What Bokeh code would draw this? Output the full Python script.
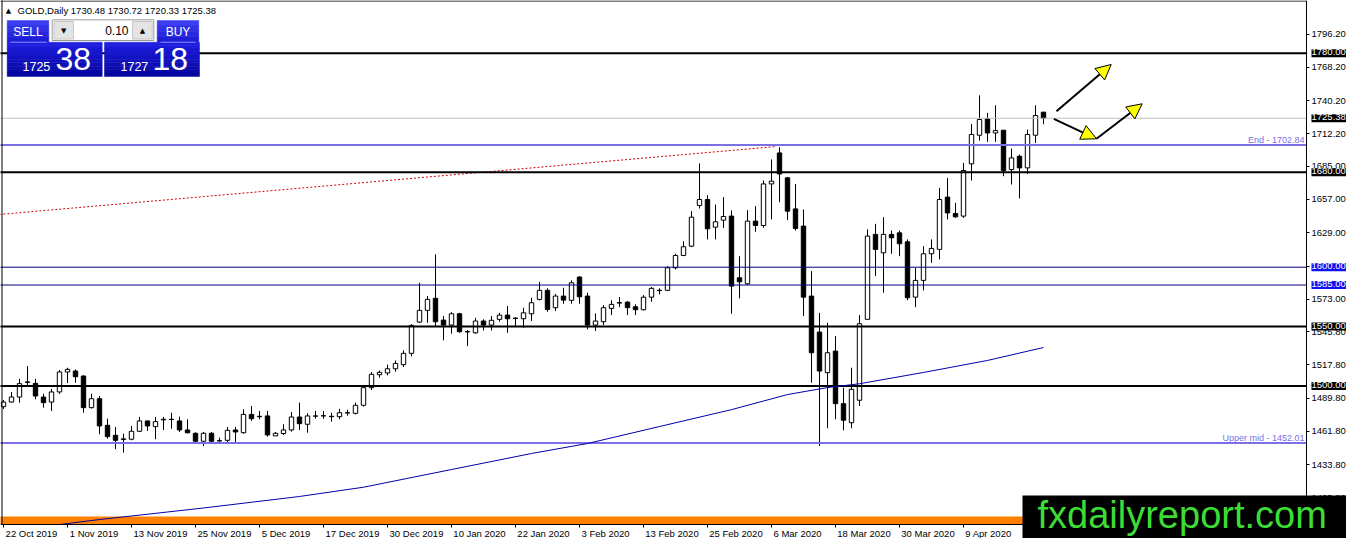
from bokeh.plotting import figure
from bokeh.models import FixedTicker, PrintfTickFormatter, Label, Arrow, NormalHead, ColumnDataSource
from bokeh.embed import file_html
from bokeh.resources import INLINE

# ---------------- data (GOLD, Daily) ----------------
opens = [1482.6,1486.5,1490.7,1503.0,1502.2,1490.7,1486.5,1495.0,1511.8,1512.6,
 1508.4,1481.8,1489.3,1466.9,1458.5,1455.0,1455.2,1461.9,1470.6,1465.8,
 1471.5,1471.8,1470.6,1463.0,1460.2,1453.5,1460.2,1453.8,1454.3,1463.0,
 1460.7,1476.1,1474.5,1474.8,1458.0,1460.0,1463.0,1473.9,1467.8,1474.6,
 1474.8,1474.5,1474.2,1477.3,1477.0,1483.8,1498.6,1509.5,1511.0,1514.5,
 1518.0,1527.5,1553.8,1563.7,1573.8,1555.5,1551.3,1560.8,1545.5,1544.8,
 1554.7,1551.3,1556.1,1559.7,1556.9,1556.6,1560.8,1572.9,1580.5,1565.9,
 1575.7,1572.1,1591.7,1575.7,1551.3,1554.1,1565.3,1569.8,1570.6,1566.7,
 1564.2,1574.8,1580.3,1580.5,1599.5,1609.9,1617.7,1652.0,1657.0,1633.7,
 1639.6,1643.0,1591.1,1586.0,1638.8,1635.1,1670.1,1696.2,1675.2,1649.1,
 1634.6,1575.7,1545.4,1511.2,1529.4,1485.1,1469.1,1488.0,1556.1,1627.6,
 1612.1,1627.6,1628.9,1621.4,1574.8,1588.9,1611.3,1615.0,1659.0,1645.2,
 1643.0,1687.0,1711.1,1725.1,1713.0,1715.3,1682.2,1693.4,1683.6,1711.1,
 1730.48]
highs = [1488.2,1495.0,1506.0,1516.8,1506.0,1493.5,1497.5,1513.5,1515.4,1514.0,
 1509.0,1493.5,1491.6,1472.5,1465.5,1459.9,1466.4,1474.0,1471.0,1474.0,
 1474.0,1477.5,1474.2,1472.0,1461.0,1461.3,1461.3,1456.5,1465.5,1465.5,
 1480.4,1483.2,1479.0,1479.0,1461.3,1467.8,1478.1,1486.0,1477.0,1479.0,
 1479.0,1477.5,1480.8,1480.0,1486.0,1499.4,1511.8,1513.0,1518.0,1521.5,
 1530.0,1552.0,1586.9,1575.7,1610.8,1558.9,1562.2,1561.6,1547.1,1557.4,
 1556.1,1558.9,1561.6,1567.3,1558.0,1565.9,1574.3,1587.7,1582.2,1577.6,
 1582.7,1588.9,1592.5,1578.5,1561.1,1568.1,1572.1,1574.8,1571.5,1568.7,
 1576.5,1583.3,1582.2,1600.9,1611.3,1621.9,1647.2,1687.3,1660.6,1652.8,
 1659.0,1647.8,1609.3,1648.0,1651.4,1673.0,1690.7,1701.0,1676.0,1670.1,
 1648.6,1596.7,1561.6,1553.2,1542.0,1498.6,1515.4,1559.7,1631.8,1636.5,
 1642.1,1630.9,1630.9,1623.4,1599.5,1617.7,1623.4,1666.8,1675.2,1654.2,
 1687.8,1720.6,1744.7,1729.9,1736.3,1715.5,1699.9,1694.8,1715.9,1736.3,
 1730.72]
lows = [1480.7,1486.0,1486.0,1500.0,1488.8,1481.8,1479.0,1493.3,1502.5,1502.8,
 1477.5,1481.0,1459.4,1455.7,1446.8,1443.9,1454.3,1461.3,1462.2,1455.2,
 1463.0,1464.0,1461.3,1460.0,1452.9,1449.5,1452.5,1451.8,1452.9,1451.8,
 1459.9,1470.6,1472.0,1457.4,1458.0,1458.8,1461.6,1463.0,1460.7,1472.5,
 1472.5,1470.0,1472.0,1475.0,1476.1,1482.6,1496.6,1507.0,1509.0,1512.0,
 1516.0,1525.0,1553.0,1553.2,1550.5,1538.4,1544.0,1544.8,1533.6,1544.0,
 1546.8,1546.8,1554.1,1544.8,1549.6,1549.0,1554.7,1572.1,1562.5,1563.1,
 1569.2,1569.2,1569.2,1547.7,1546.3,1551.3,1559.7,1566.4,1559.7,1559.7,
 1563.7,1570.9,1577.1,1579.9,1598.1,1609.3,1616.9,1649.4,1623.4,1623.4,
 1633.1,1560.8,1573.8,1584.9,1629.8,1633.1,1640.2,1654.7,1639.6,1630.9,
 1558.9,1502.8,1449.5,1464.4,1472.0,1462.7,1464.4,1483.2,1556.0,1592.5,
 1578.5,1611.3,1609.3,1572.1,1566.4,1580.5,1603.7,1606.6,1640.2,1641.5,
 1641.5,1673.0,1706.6,1705.5,1705.5,1676.6,1669.6,1657.9,1678.5,1704.6,
 1720.33]
closes = [1486.5,1490.7,1502.0,1503.5,1491.6,1486.0,1495.0,1511.8,1514.0,1507.8,
 1481.8,1489.3,1466.4,1457.4,1454.3,1455.5,1461.9,1470.6,1466.4,1470.0,
 1472.0,1472.0,1463.0,1460.7,1453.5,1460.2,1453.5,1454.0,1462.7,1461.3,
 1476.1,1472.5,1474.2,1458.8,1460.2,1463.0,1473.9,1468.3,1474.8,1474.8,
 1475.0,1474.2,1477.5,1477.5,1483.8,1498.6,1509.8,1511.5,1514.5,1519.0,
 1527.5,1551.0,1563.7,1572.9,1554.1,1551.3,1560.8,1545.7,1545.9,1554.7,
 1551.3,1555.3,1559.7,1556.6,1557.1,1561.6,1570.1,1580.5,1564.5,1575.7,
 1572.3,1586.9,1575.1,1551.3,1554.7,1565.9,1568.7,1570.2,1565.9,1564.2,
 1574.8,1582.2,1580.6,1599.5,1609.9,1617.2,1642.1,1657.0,1632.3,1638.2,
 1642.7,1584.1,1587.7,1638.8,1635.1,1670.1,1672.4,1678.5,1647.2,1632.6,
 1574.8,1528.0,1512.6,1528.0,1485.1,1471.2,1497.2,1552.4,1626.2,1615.0,
 1627.6,1624.7,1619.7,1574.3,1588.9,1611.3,1615.8,1657.0,1645.7,1642.4,
 1681.4,1711.7,1724.3,1713.0,1715.0,1681.4,1692.0,1683.6,1711.7,1727.7,
 1725.38]

date_tick_bars = [0, 8, 16, 24, 32, 40, 48, 56, 64, 72, 80, 88, 96, 104, 112, 120]
date_labels = ["22 Oct 2019", "1 Nov 2019", "13 Nov 2019", "25 Nov 2019", "5 Dec 2019",
               "17 Dec 2019", "30 Dec 2019", "10 Jan 2020", "22 Jan 2020", "3 Feb 2020",
               "13 Feb 2020", "25 Feb 2020", "6 Mar 2020", "18 Mar 2020", "30 Mar 2020",
               "9 Apr 2020"]
price_ticks = [1796.2, 1768.2, 1740.2, 1712.2, 1685.0, 1657.0, 1629.0, 1601.0, 1573.0,
               1545.8, 1517.8, 1489.8, 1461.8, 1433.8, 1405.8]

black_levels = [1780.0, 1680.0, 1550.0, 1500.0]
navy_levels = [1600.0, 1585.0]
fibo_levels = [1702.84, 1452.01]
fibo_names = ["End", "Upper mid"]
bid_price = 1725.38
ask_price = 1727.18
lot_size = 0.10
header_ohlc = [1730.48, 1730.72, 1720.33, 1725.38]

ma_bars = [0, 12, 25, 37, 45, 56, 66, 73, 82, 91, 98, 103, 107, 115, 123, 130]
ma_values = [1377.5, 1387.6, 1397.3, 1407.0, 1414.8, 1429.7, 1443.2, 1451.6, 1465.9,
             1480.1, 1492.8, 1498.7, 1501.9, 1511.4, 1521.5, 1532.4]
trend_bars = [-0.5, 96.6]
trend_values = [1644.4, 1701.6]

# ---------------- layout helpers (canvas pixels -> data) ----------------
W, H = 1346, 538
BAR_PX = 8.0
PX_PER_UNIT = 1.188
X0 = -0.375
X1 = X0 + W / BAR_PX
Y1 = 1824.5
Y0 = Y1 - H / PX_PER_UNIT
FONT = "Liberation Sans"


def cx(x):
    return X0 + x / BAR_PX


def cy(y):
    return Y1 - y / PX_PER_UNIT


AX_X = cx(1306)   # price axis position
AX_Y = cy(524)    # time axis position

p = figure(frame_width=W, frame_height=H, x_range=(X0, X1), y_range=(Y0, Y1),
           y_axis_location="right", output_backend="svg", toolbar_location=None,
           min_border_left=0, min_border_top=0, min_border_right=0, min_border_bottom=0,
           background_fill_color="white", border_fill_color="white")
p.grid.visible = False
p.outline_line_color = None

# price axis
p.yaxis.fixed_location = AX_X
p.yaxis.bounds = (AX_Y, Y1 + 5)
p.yaxis.ticker = FixedTicker(ticks=price_ticks)
p.yaxis.formatter = PrintfTickFormatter(format="%.2f")
p.yaxis.major_tick_out = 3
p.yaxis.major_tick_in = 0
p.yaxis.minor_tick_out = 0
p.yaxis.minor_tick_in = 0
p.yaxis.major_label_standoff = 2
p.yaxis.major_label_text_font = FONT
p.yaxis.major_label_text_font_size = "9.5px"
p.yaxis.major_label_text_color = "black"
p.yaxis.axis_line_color = "black"

# time axis: each label starts at its bar
FS_DATE = 9.5
cw = {' ': .278, 'O': .778, 'c': .5, 't': .278, 'N': .722, 'o': .556, 'v': .5, 'D': .722,
      'e': .556, 'J': .5, 'a': .556, 'n': .556, 'F': .611, 'b': .556, 'M': .833, 'r': .333,
      'A': .667, 'p': .556}
centres, overrides = [], {}
for b, s in zip(date_tick_bars, date_labels):
    w = sum(cw.get(ch, .556) for ch in s) * FS_DATE
    c = round((b + (w / 2 + 2) / BAR_PX) * 16) / 16
    centres.append(c)
    overrides[c] = s
p.xaxis.fixed_location = AX_Y
p.xaxis.bounds = (X0 - 1, AX_X)
p.xaxis.ticker = FixedTicker(ticks=centres)
p.xaxis.major_label_overrides = overrides
p.xaxis.major_tick_out = 0
p.xaxis.major_tick_in = 0
p.xaxis.minor_tick_out = 0
p.xaxis.minor_tick_in = 0
p.xaxis.major_label_standoff = 3
p.xaxis.major_label_text_font = FONT
p.xaxis.major_label_text_font_size = f"{FS_DATE}px"
p.xaxis.major_label_text_color = "black"
p.xaxis.axis_line_color = "black"

# bottom orange strip
p.quad(left=[X0 - 1], right=[AX_X], bottom=[AX_Y], top=[AX_Y + 8 / PX_PER_UNIT],
       fill_color="#ff8000", line_color=None)

# candles
n = len(opens)
bars = list(range(n))
src = ColumnDataSource(dict(
    x=bars, o=opens, h=highs, l=lows, c=closes,
    top=[max(a, b) for a, b in zip(opens, closes)],
    bot=[min(a, b) for a, b in zip(opens, closes)],
    fill=["white" if c >= o else "black" for o, c in zip(opens, closes)],
))
p.segment(x0="x", y0="l", x1="x", y1="h", source=src, line_color="black", line_width=1)
p.vbar(x="x", width=0.55, top="top", bottom="bot", source=src, fill_color="fill",
       line_color="black", line_width=1)

# lines on top of candles
p.line(trend_bars, trend_values, line_color="#d00000", line_width=1, line_dash="2 2")
p.segment(x0=[X0 - 1], x1=[AX_X], y0=[bid_price], y1=[bid_price], line_color="#c0c0c0", line_width=1)
k = len(navy_levels)
p.segment(x0=[X0 - 1] * k, x1=[AX_X] * k, y0=navy_levels, y1=navy_levels,
          line_color="#000080", line_width=1)
k = len(fibo_levels)
p.segment(x0=[X0 - 1] * k, x1=[AX_X] * k, y0=fibo_levels, y1=fibo_levels,
          line_color="#7b6fe6", line_width=2)
k = len(black_levels)
p.segment(x0=[X0 - 1] * k, x1=[AX_X] * k, y0=black_levels, y1=black_levels,
          line_color="black", line_width=2)
p.line(ma_bars, ma_values, line_color="#0000a8", line_width=1)

# white margins outside the chart area (below the time axis, right of the price axis)
p.quad(left=[X0 - 1], right=[X1 + 1], top=[AX_Y], bottom=[Y0 - 5], fill_color="white", line_color=None)
p.quad(left=[AX_X], right=[X1 + 1], top=[Y1 + 5], bottom=[Y0 - 5], fill_color="white", line_color=None)
# chart border (left, top)
p.segment(x0=[cx(1.5), X0 - 1], x1=[cx(1.5), AX_X], y0=[AX_Y, cy(0.5)], y1=[Y1 + 5, cy(0.5)],
          line_color="black", line_width=1)
# small date ticks
p.segment(x0=date_tick_bars, x1=date_tick_bars, y0=[AX_Y] * len(date_tick_bars),
          y1=[AX_Y - 3 / PX_PER_UNIT] * len(date_tick_bars), line_color="black", line_width=1)

# watermark box
p.quad(left=[cx(1022)], right=[X1 + 1], top=[cy(495)], bottom=[Y0 - 5],
       fill_color="black", line_color=None)

# ---------------- one-click trading panel ----------------


def grad_box(xa, xb, ya, yb, ctop, cbot, nstripe):
    L, R, T, B, C = [], [], [], [], []
    for s in range(nstripe):
        t = s / max(nstripe - 1, 1)
        col = tuple(int(ctop[j] + (cbot[j] - ctop[j]) * t) for j in range(3))
        y_a = ya + (yb - ya) * s / nstripe
        y_b = ya + (yb - ya) * (s + 1) / nstripe
        L.append(cx(xa)); R.append(cx(xb)); T.append(cy(y_a)); B.append(cy(y_b))
        C.append("#%02x%02x%02x" % col)
    p.quad(left=L, right=R, top=T, bottom=B, fill_color=C, line_color=C, line_width=0.5)


grad_box(6.7, 48.3, 20, 41.7, (60, 60, 240), (30, 30, 215), 4)
grad_box(156.7, 198.3, 20, 41.7, (60, 60, 240), (30, 30, 215), 4)
grad_box(6.7, 101.7, 41.7, 76, (30, 30, 225), (6, 6, 160), 10)
grad_box(104, 199, 41.7, 76, (30, 30, 225), (6, 6, 160), 10)
p.quad(left=[cx(51.7)], right=[cx(153.3)], top=[cy(19.3)], bottom=[cy(40)],
       fill_color="white", line_color="#9a9a9a", line_width=1)
p.quad(left=[cx(53.5), cx(132)], right=[cx(73), cx(151.7)], top=[cy(21)] * 2,
       bottom=[cy(38.5)] * 2, fill_color="#e4e4e4", line_color="#c4c4c4", line_width=1)
p.segment(x0=[cx(10), cx(160)], x1=[cx(46), cx(195)], y0=[cy(41.7)] * 2,
          y1=[cy(41.7)] * 2, line_color="#8a8aff", line_width=1)


def lab(x, y, text, size, color, align="left", baseline="middle", bg=None, pad=None, font=FONT):
    kw = dict(x=x, y=y, text=text, text_font_size=f"{size}px", text_color=color,
              text_align=align, text_baseline=baseline, text_font=font)
    if bg is not None:
        kw["background_fill_color"] = bg
    if pad is not None:
        kw["padding"] = pad
    p.add_layout(Label(**kw))


bid_s = f"{bid_price:.2f}"
ask_s = f"{ask_price:.2f}"
lab(cx(27.5), cy(31), "SELL", 12, "white", "center")
lab(cx(177.5), cy(31), "BUY", 12, "white", "center")
lab(cx(128), cy(30), f"{lot_size:.2f}", 12, "black", "right")
lab(cx(63.3), cy(30), "\u25bc", 7, "black", "center", font="DejaVu Sans")
lab(cx(142), cy(30), "\u25b2", 7, "black", "center", font="DejaVu Sans")
lab(cx(22), cy(65.5), bid_s[:4], 12.5, "white", "left")
lab(cx(55), cy(58.5), bid_s[5:], 32, "white", "left")
lab(cx(120), cy(65.5), ask_s[:4], 12.5, "white", "left")
lab(cx(152), cy(58.5), ask_s[5:], 32, "white", "left")

# header
lab(cx(8), cy(10), "\u25b2", 7, "black", "center", font="DejaVu Sans")
lab(cx(17), cy(10), "GOLD,Daily  " + " ".join(f"{v:.2f}" for v in header_ohlc), 9.5, "black")

# fibo texts
for lvl, name in zip(fibo_levels, fibo_names):
    lab(AX_X - 2 / BAR_PX, lvl + 5.5 / PX_PER_UNIT, f"{name} - {lvl:.2f}", 9, "#7b6fe6",
        "right", "middle")

# price labels on the axis
for lvl in black_levels[:2] + [bid_price] + black_levels[2:]:
    lab(cx(1311), lvl, f"{lvl:.2f}", 9.5, "white", "left", "middle", bg="black", pad=(0, 2, 0, 2))
for lvl in navy_levels:
    lab(cx(1311), lvl, f"{lvl:.2f}", 9.5, "white", "left", "middle", bg="#1010f0", pad=(0, 2, 0, 2))

# arrows
head = dict(size=15, fill_color="yellow", line_color="black", line_width=1)
for (xa, ya, xb, yb) in [(1056, 110.7, 1110.7, 64), (1053.3, 118.3, 1096, 138.3),
                         (1096, 138.3, 1141.7, 103.3)]:
    p.add_layout(Arrow(end=NormalHead(**head), x_start=cx(xa), y_start=cy(ya), x_end=cx(xb),
                       y_end=cy(yb), line_color="black", line_width=2))

# watermark text
lab(cx(1037), cy(514), "fxdailyreport.com", 38, "#3ddc35", "left", "middle")

open("out.html", "w").write(file_html(p, INLINE))
